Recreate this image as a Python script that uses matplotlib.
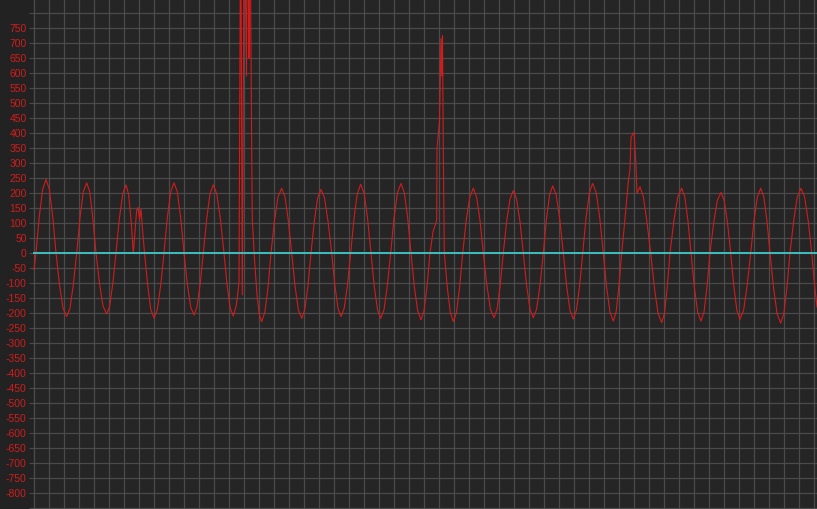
import numpy as np
import matplotlib.pyplot as plt

# ============================================================
# DADOS (amostra, valor)
# ============================================================

sample_t = [
    0,
    2, 5.3, 8.7, 12, 15.3, 18.7,
    22, 25.5, 29, 32.7, 36, 39.3,
    42.7, 46, 49.3, 52.7, 55.7, 58.8,
    62, 65.5, 69, 72.7, 75.7, 78.8,
    82, 85.3, 88.7, 92, 94.5, 97,
    99.3, 101, 102.7, 104, 105.5, 107, 108.5,
    110.5, 113.7, 116.8, 120, 123.3, 126.7,
    130, 133.3, 136.7, 140, 143.3, 146.7,
    150, 153.3, 156.7, 160, 163, 166.2,
    169.3, 172.7, 176, 179.3, 182.8, 186.4,
    190, 193, 196.2, 199.3, 202.3, 205,
    206.7, 208.3, 210.3, 212.5, 213.5, 215, 216, 217.5, 218.3, 220.5, 223, 225.3,
    227.7, 230.8, 234,
    237, 240.5, 244, 247.7, 251, 254.3,
    257.7, 261, 264.3, 267.7, 270.8, 274,
    277, 280.3, 283.7, 287, 290.5, 294,
    297.7, 300.8, 304, 307, 310.2, 313.5,
    316.7, 320, 323.3, 326.7, 330.2, 333.6,
    337, 340.2, 343.5, 346.7, 350, 353.3,
    356.7, 360, 363.5, 367, 370.3, 373.7,
    377, 380.3, 383.7, 387, 390, 393,
    396, 399, 402.7, 403, 405.5, 406.2, 407, 407.7, 408.5, 409.3,
    410.3, 413.3, 416.3, 419.3, 422.5, 425.6,
    428.7, 432.2, 435.8, 439.3, 442.6, 446,
    449.3, 452.9, 456.4, 460, 463.1, 466.2,
    469.3, 472.6, 476, 479.3, 482.6, 486,
    489.3, 492.6, 496, 499.3, 502.6, 506,
    509.3, 512.4, 515.6, 518.7, 522.2, 525.8,
    529.3, 532.6, 536, 539.3, 542.4, 545.6,
    548.7, 552, 555.4, 558.7, 562.2, 565.8,
    569.3, 572.6, 576, 579.3, 582.1, 584.9,
    587.7, 591, 594.3, 596, 597, 598.5, 600, 601.7, 603, 606, 609.3, 612.7,
    616.7, 620.4, 624, 627.7, 630.5, 633.2,
    636, 639.9, 643.8, 647.7, 650.8, 653.9,
    657, 660.3, 663.7, 667, 670, 673,
    676, 679.7, 683.3, 687, 690.2, 693.5,
    696.7, 699.8, 702.9, 706, 709.6, 713.1,
    716.7, 720, 723.4, 726.7, 729.8, 732.9,
    736, 739.6, 743.1, 746.7, 749.8, 752.9,
    756, 759.7, 763.3, 767, 770.6, 774.2,
    777.7, 780.5, 783,
]

sample_v = [
    -55,
    0, 122, 213, 245, 213, 122,
    0, -106, -184, -212, -184, -106,
    0, 117, 204, 234, 204, 117,
    0, -101, -177, -203, -177, -101,
    0, 113, 197, 227, 197, 113,
    0, 70, 143, 152, 112, 145, 80,
    0, -108, -189, -217, -189, -108,
    0, 117, 204, 234, 204, 117,
    0, -103, -180, -207, -180, -103,
    0, 113, 197, 227, 197, 113,
    0, -105, -183, -210, -175, -100,
    1200, -140, 1200, 590, 1200, 650, 1200, 430, 110, -20, -140, -205,
    -229, -198, -115,
    0, 108, 187, 216, 187, 108,
    0, -109, -189, -218, -189, -109,
    0, 106, 184, 212, 184, 106,
    0, -106, -184, -212, -184, -106,
    0, 115, 198, 229, 198, 115,
    0, -109, -189, -218, -189, -109,
    0, 116, 201, 232, 201, 116,
    0, -112, -193, -223, -193, -112,
    0, 70, 110, 350, 440, 577, 715, 590, 725, 345,
    0, -115, -198, -229, -198, -115,
    0, 108, 187, 216, 187, 108,
    0, -108, -187, -216, -187, -108,
    0, 104, 180, 208, 180, 104,
    0, -108, -187, -216, -187, -108,
    0, 112, 194, 224, 194, 112,
    0, -110, -191, -220, -191, -110,
    0, 116, 201, 232, 201, 116,
    0, -113, -197, -227, -197, -113,
    0, 115, 238, 280, 385, 395, 402, 310, 199, 221, 188, 110,
    0, -116, -201, -232, -201, -116,
    0, 108, 187, 216, 187, 108,
    0, -113, -197, -227, -197, -113,
    0, 101, 175, 202, 175, 101,
    0, -110, -191, -221, -191, -110,
    0, 108, 187, 216, 187, 108,
    0, -117, -203, -234, -203, -117,
    0, 108, 187, 216, 187, 108,
    0, -105, -180,
]

linha_base = 0
y_grade = np.arange(-850, 801, 50)
y_rotulos = np.arange(-800, 751, 50)
x_grade = np.arange(0, 784, 15)

# ============================================================
# GRÁFICO
# ============================================================

fundo = "#252525"
cor_grade = "#4b4b4b"
vermelho = "#d21c1c"

fig = plt.figure(figsize=(8.17, 5.09), dpi=100, facecolor="#222222")
ax = fig.add_axes([33 / 817, 0, 784 / 817, 1])
ax.set_facecolor(fundo)

ax.plot(sample_t, sample_v, color=vermelho, lw=0.8, zorder=3)
ax.axhline(linha_base, color="#3fc9c9", lw=1.3, zorder=4)

ax.set_xlim(-1, 783)
ax.set_ylim(-853.3, 843.3)

ax.set_xticks(x_grade)
ax.set_yticks(y_grade)
ax.set_yticklabels([str(v) if v in y_rotulos else "" for v in y_grade])
ax.tick_params(axis="y", colors=cor_grade, length=3, width=0.8, pad=1.5,
               labelcolor=vermelho, labelsize=7.5)
ax.tick_params(axis="x", length=0, labelbottom=False)
for lab in ax.get_yticklabels():
    lab.set_fontfamily("Liberation Sans")

ax.grid(True, color=cor_grade, lw=0.9)
ax.set_axisbelow(True)
for s in ax.spines.values():
    s.set_visible(False)

fig.savefig("out.png", dpi=100, facecolor=fig.get_facecolor())
